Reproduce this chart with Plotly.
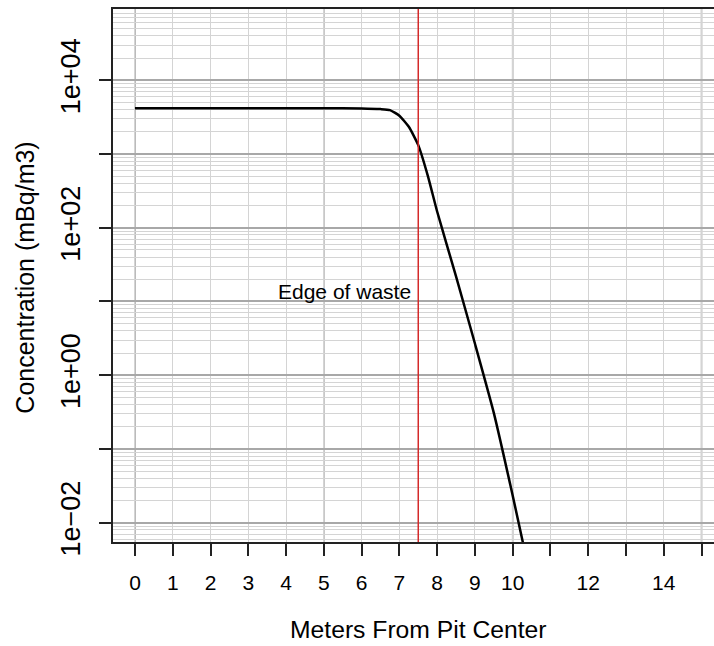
import math
import plotly.graph_objects as go

# Data
distance_m = [0, 1, 2, 3, 4, 5, 6, 6.5, 6.75, 7.0, 7.25, 7.5, 7.75, 8.0, 8.5, 9.0, 9.5, 10.0, 10.5]
concentration = [4170, 4170, 4170, 4170, 4170, 4170, 4160, 4070, 3940, 3310, 2340, 1320,
                 513, 166, 21.9, 2.69, 0.309, 0.0234, 0.00155]
edge_of_waste_x = 7.5
edge_label = "Edge of waste"
edge_label_y = 13.8

x_tick_vals = list(range(0, 16))
x_tick_text = ["0", "1", "2", "3", "4", "5", "6", "7", "8", "9", "10", "", "12", "", "14", ""]
y_tick_vals = [1e-2, 1e-1, 1e0, 1e1, 1e2, 1e3, 1e4]
y_tick_text = ["1e\u221202", "", "1e+00", "", "1e+02", "", "1e+04"]
x_major_grid = [0, 5, 10, 15]

FONT = "Liberation Sans, Arial, Helvetica, sans-serif"

fig = go.Figure()
fig.add_trace(go.Scatter(
    x=distance_m, y=concentration, mode="lines",
    line=dict(color="black", width=2.5, shape="spline", smoothing=0.5),
    showlegend=False, hoverinfo="skip"))

shapes = []
for xv in x_major_grid:
    shapes.append(dict(type="line", xref="x", yref="paper", x0=xv, x1=xv, y0=0, y1=1,
                       line=dict(color="#a8a8a8", width=1.6), layer="below"))
shapes.append(dict(type="line", xref="x", yref="paper", x0=edge_of_waste_x, x1=edge_of_waste_x,
                   y0=0, y1=1, line=dict(color="#d42a2a", width=1.5), layer="above"))

fig.update_layout(
    width=714, height=646,
    margin=dict(l=113, r=0, t=9, b=104),
    paper_bgcolor="white", plot_bgcolor="white",
    font=dict(family=FONT, color="black"),
    shapes=shapes,
    showlegend=False,
    annotations=[
        dict(x=edge_of_waste_x, y=math.log10(edge_label_y),
             xref="x", yref="y", text=edge_label, showarrow=False,
             xanchor="right", yanchor="middle", xshift=-5, font=dict(size=21, family=FONT)),
        dict(x=0.5075, y=-0.165, xref="paper", yref="paper", text="Meters From Pit Center",
             showarrow=False, xanchor="center", yanchor="middle", font=dict(size=24.7, family=FONT)),
        dict(x=-0.1464, y=0.496, xref="paper", yref="paper", text="Concentration (mBq/m3)",
             showarrow=False, xanchor="center", yanchor="middle", textangle=-90,
             font=dict(size=25, family=FONT)),
    ],
)

fig.update_xaxes(
    range=[-0.582, 15.33], tickmode="array", tickvals=x_tick_vals, ticktext=x_tick_text,
    showgrid=True, gridcolor="#d4d4d4", gridwidth=1,
    ticks="outside", ticklen=12, tickwidth=1.5, tickcolor="#222",
    showline=True, linecolor="#222", linewidth=1.5, mirror=True,
    tickfont=dict(size=21, family=FONT, color="black"), ticklabelstandoff=9,
    zeroline=False,
)
fig.update_yaxes(
    type="log", range=[-2.262, 4.967], tickmode="array", tickvals=y_tick_vals, ticktext=y_tick_text,
    showgrid=True, gridcolor="#a8a8a8", gridwidth=1.6,
    minor=dict(dtick="D1", showgrid=True, gridcolor="#d4d4d4", gridwidth=1, ticks=""),
    ticks="outside", ticklen=12, tickwidth=1.5, tickcolor="#222",
    showline=True, linecolor="#222", linewidth=1.5, mirror=False,
    tickangle=-90, tickfont=dict(size=27, family=FONT, color="black"), ticklabelstandoff=8,
    zeroline=False,
)

fig.write_html("out.html", config={"displayModeBar": False},
               post_script="document.body.style.margin='0px';document.body.style.overflow='hidden';")
